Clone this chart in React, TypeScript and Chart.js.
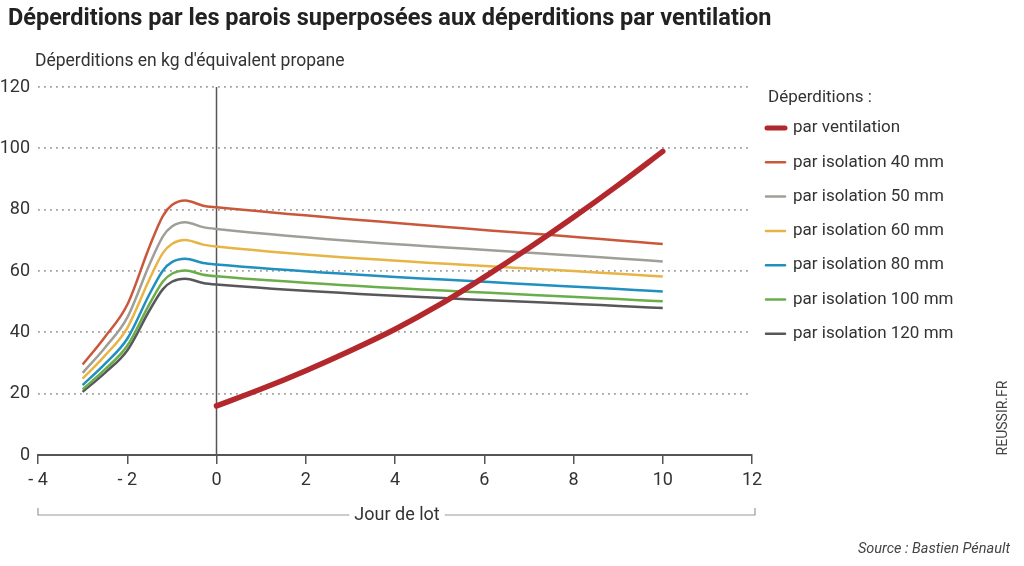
import React, { useEffect, useRef } from 'react';
import { Chart, registerables } from 'chart.js';

Chart.register(...registerables);

// jours de lot
const isoDays = [-3, -2.5, -2, -1.5, -1.2, -1, -0.7, -0.3, 0, 10];
const ventDays = [0, 1, 2, 3, 4, 5, 6, 7, 8, 9, 10];

// déperditions en kg d'équivalent propane
const ventilation = [16, 21.5, 27.5, 34, 41, 49, 58, 67.5, 77.5, 88, 99];
const iso40 = [29.5, 38.5, 49, 68, 78, 81.5, 83, 81.3, 80.8, 68.8];
const iso50 = [26.8, 35, 44.8, 62.2, 71.3, 74.5, 75.9, 74.3, 73.7, 63.1];
const iso60 = [24.9, 32.4, 41.4, 57.4, 65.9, 68.8, 70.1, 68.6, 68, 58.2];
const iso80 = [22.8, 29.7, 37.9, 52.5, 60.2, 62.9, 64, 62.6, 62.1, 53.3];
const iso100 = [21.4, 27.9, 35.6, 49.3, 56.6, 59.1, 60.2, 58.8, 58.3, 50.1];
const iso120 = [20.6, 26.8, 34.1, 47.2, 54.1, 56.5, 57.5, 56.1, 55.6, 47.9];

const seriesLabels = [
  'par ventilation',
  'par isolation 40 mm',
  'par isolation 50 mm',
  'par isolation 60 mm',
  'par isolation 80 mm',
  'par isolation 100 mm',
  'par isolation 120 mm',
];
const seriesColors = ['#b3282d', '#c9583b', '#a09e99', '#e8b445', '#1f90c0', '#69ae48', '#58585b'];

const xTicks = [-4, -2, 0, 2, 4, 6, 8, 10, 12];
const yTicks = [0, 20, 40, 60, 80, 100, 120];

const FONT = 'Roboto, "Open Sans", sans-serif';

const toPoints = (xs: number[], ys: number[]) => xs.map((x, i) => ({ x, y: ys[i] }));

const decorations = {
  id: 'decorations',
  beforeDatasetsDraw(chart: any) {
    const { ctx, chartArea, scales } = chart;
    const x0 = scales.x.getPixelForValue(0);
    ctx.save();
    ctx.strokeStyle = '#555';
    ctx.lineWidth = 1.5;
    ctx.beginPath();
    ctx.moveTo(x0, chartArea.top);
    ctx.lineTo(x0, chartArea.bottom);
    ctx.stroke();
    ctx.restore();
  },
  afterDraw(chart: any) {
    const { ctx, scales } = chart;
    ctx.save();

    // titre
    ctx.fillStyle = '#222';
    ctx.textBaseline = 'middle';
    ctx.textAlign = 'left';
    ctx.font = `bold 23.5px ${FONT}`;
    ctx.fillText('Déperditions par les parois superposées aux déperditions par ventilation', 8, 19);

    ctx.fillStyle = '#333';
    ctx.font = `17.5px ${FONT}`;
    ctx.fillText("Déperditions en kg d'équivalent propane", 35, 62);

    // légende
    ctx.font = `17px ${FONT}`;
    ctx.fillText('Déperditions :', 768, 98);
    chart.data.datasets.forEach((ds: any, i: number) => {
      const y = 128 + i * 34.3;
      ctx.strokeStyle = ds.borderColor;
      ctx.lineWidth = i === 0 ? 5 : 2.5;
      ctx.lineCap = 'round';
      ctx.beginPath();
      ctx.moveTo(i === 0 ? 767 : 766, y);
      ctx.lineTo(785, y);
      ctx.stroke();
      ctx.fillStyle = '#333';
      ctx.fillText(ds.label, 793, y);
    });

    // accolade "Jour de lot"
    const left = scales.x.getPixelForValue(-4);
    const right = scales.x.getPixelForValue(12) + 3;
    const by = 515;
    const label = 'Jour de lot';
    ctx.font = `18px ${FONT}`;
    const w = ctx.measureText(label).width;
    const cx = 397;
    ctx.strokeStyle = '#999';
    ctx.lineWidth = 1.2;
    ctx.lineCap = 'butt';
    ctx.beginPath();
    ctx.moveTo(left, by - 7);
    ctx.lineTo(left, by);
    ctx.lineTo(cx - w / 2 - 5, by);
    ctx.moveTo(cx + w / 2 + 5, by);
    ctx.lineTo(right, by);
    ctx.lineTo(right, by - 7);
    ctx.stroke();
    ctx.fillStyle = '#333';
    ctx.textAlign = 'center';
    ctx.fillText(label, cx, by);

    // crédits
    ctx.fillStyle = '#444';
    ctx.textAlign = 'right';
    ctx.font = `italic 14.5px ${FONT}`;
    ctx.fillText('Source : Bastien Pénault', 1010, 549);

    ctx.translate(1003, 418);
    ctx.rotate(-Math.PI / 2);
    ctx.textAlign = 'center';
    ctx.font = `14px ${FONT}`;
    ctx.fillText('REUSSIR.FR', 0, 0);

    ctx.restore();
  },
};

const App = () => {
  const chartRef = useRef<HTMLCanvasElement | null>(null);

  useEffect(() => {
    document.body.style.margin = '0';
    const canvas = chartRef.current;
    if (!canvas) return;

    const isoSeries = [iso40, iso50, iso60, iso80, iso100, iso120];
    const datasets: any[] = [
      {
        label: seriesLabels[0],
        data: toPoints(ventDays, ventilation),
        borderColor: seriesColors[0],
        borderWidth: 5.5,
        borderCapStyle: 'round',
        cubicInterpolationMode: 'monotone',
      },
      ...isoSeries.map((values, i) => ({
        label: seriesLabels[i + 1],
        data: toPoints(isoDays, values),
        borderColor: seriesColors[i + 1],
        borderWidth: 2.5,
        cubicInterpolationMode: 'monotone',
      })),
    ];

    const chart = new Chart(canvas, {
      type: 'line',
      data: { datasets },
      options: {
        animation: false,
        responsive: false,
        maintainAspectRatio: false,
        layout: { padding: { left: 0, top: 87, right: 272, bottom: 0 } },
        elements: { point: { radius: 0 } },
        plugins: {
          legend: { display: false },
          tooltip: { enabled: false },
        },
        scales: {
          x: {
            type: 'linear',
            min: -4,
            max: 12,
            afterBuildTicks: (axis: any) => {
              axis.ticks = xTicks.map((value) => ({ value }));
            },
            afterFit: (axis: any) => {
              axis.height = 111;
            },
            grid: {
              drawOnChartArea: false,
              drawTicks: true,
              tickLength: 9,
              color: '#555',
              lineWidth: 1.5,
            },
            border: { display: true, color: '#555', width: 2 },
            ticks: {
              color: '#333',
              padding: 6,
              font: { family: FONT, size: 18 },
              callback: (v: any) => (v < 0 ? `- ${Math.abs(v)}` : `${v}`),
            },
          },
          y: {
            min: 0,
            max: 120,
            afterBuildTicks: (axis: any) => {
              axis.ticks = yTicks.map((value) => ({ value }));
            },
            afterFit: (axis: any) => {
              axis.width = 38;
            },
            border: { display: false, dash: [1.8, 4.2] },
            grid: {
              drawTicks: false,
              color: (c: any) => (c.tick && c.tick.value === 0 ? 'rgba(0,0,0,0)' : '#a0a0a0'),
              lineWidth: 1.8,
            },
            ticks: {
              color: '#333',
              padding: 8,
              font: { family: FONT, size: 18 },
            },
          },
        },
      } as any,
      plugins: [decorations],
    });

    return () => {
      chart.destroy();
    };
  }, []);

  return (
    <div style={{ width: 1024, height: 566, background: '#fff' }}>
      <canvas ref={chartRef} width={1024} height={566} style={{ width: 1024, height: 566 }}></canvas>
    </div>
  );
};

export default App;
